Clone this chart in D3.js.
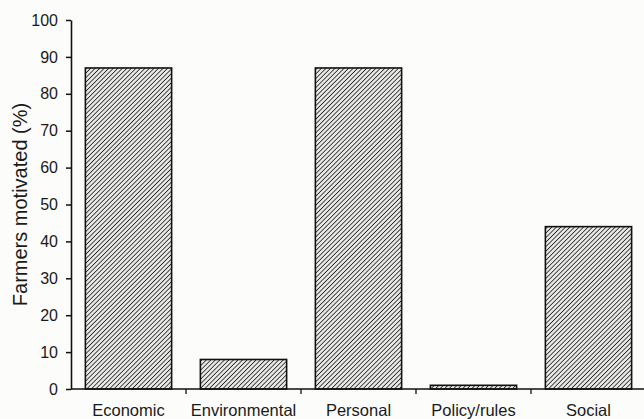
<!DOCTYPE html>
<html>
<head>
<meta charset="utf-8">
<script src="https://cdn.jsdelivr.net/npm/d3@7"></script>
<style>
  html, body { margin: 0; padding: 0; background: #fcfcfb; }
  svg { display: block; }
  text { font-family: "Liberation Sans", Arial, sans-serif; fill: #1a1a1a; }
</style>
</head>
<body>
<svg id="chart" width="644" height="419"></svg>
<script>
// Share of farmers motivated by each driver
const categories = ["Economic", "Environmental", "Personal", "Policy/rules", "Social"];
const values = [87, 8, 87, 1, 44];
const yTicks = [0, 10, 20, 30, 40, 50, 60, 70, 80, 90, 100];
const yLabel = "Farmers motivated (%)";

const svg = d3.select("#chart");
const margin = { left: 71, right: -2, top: 20, bottom: 30 };
const W = 644, H = 419;

const x = d3.scaleBand()
  .domain(categories)
  .range([margin.left, W - margin.right])
  .paddingInner(0.25)
  .paddingOuter(0.125);

const y = d3.scaleLinear()
  .domain([0, 100])
  .range([H - margin.bottom, margin.top]);

// Diagonal hatch fill
const defs = svg.append("defs");
const pat = defs.append("pattern")
  .attr("id", "hatch")
  .attr("patternUnits", "userSpaceOnUse")
  .attr("width", 3.2).attr("height", 3.2)
  .attr("patternTransform", "rotate(45)");
pat.append("rect").attr("width", 3.2).attr("height", 3.2).attr("fill", "#e8e8e6");
pat.append("line")
  .attr("x1", 0).attr("y1", 0).attr("x2", 0).attr("y2", 3.2)
  .attr("stroke", "#222").attr("stroke-width", 1.6);

// Bars
svg.append("g")
  .selectAll("rect")
  .data(categories)
  .join("rect")
  .attr("x", d => x(d))
  .attr("width", x.bandwidth())
  .attr("y", (d, i) => y(values[i]))
  .attr("height", (d, i) => y(0) - y(values[i]))
  .attr("fill", "url(#hatch)")
  .attr("stroke", "#111")
  .attr("stroke-width", 1.6);

// Y axis
const yAxis = svg.append("g")
  .attr("transform", `translate(${margin.left},0)`)
  .call(d3.axisLeft(y).tickValues(yTicks).tickSize(5).tickPadding(8).tickSizeOuter(0));
yAxis.select(".domain").attr("stroke", "#111").attr("stroke-width", 1.6);
yAxis.selectAll(".tick line").attr("stroke", "#111").attr("stroke-width", 1.5);
yAxis.selectAll("text").attr("font-size", 16).style("fill", "#1a1a1a");

// X axis: baseline with ticks on the category boundaries
const baseY = y(0);
const xAxis = svg.append("g");
xAxis.append("line")
  .attr("x1", margin.left).attr("x2", W)
  .attr("y1", baseY).attr("y2", baseY)
  .attr("stroke", "#111").attr("stroke-width", 1.6);
const step = x.step();
const bounds = d3.range(1, categories.length).map(i => x(categories[i]) - step * x.paddingInner() / 2);
xAxis.selectAll("line.tk")
  .data(bounds)
  .join("line")
  .attr("class", "tk")
  .attr("x1", d => d).attr("x2", d => d)
  .attr("y1", baseY).attr("y2", baseY + 5)
  .attr("stroke", "#111").attr("stroke-width", 1.3);
xAxis.selectAll("text")
  .data(categories)
  .join("text")
  .attr("x", d => x(d) + x.bandwidth() / 2)
  .attr("y", baseY + 27)
  .attr("text-anchor", "middle")
  .attr("font-size", 16.5)
  .text(d => d);

// Y axis title
svg.append("text")
  .attr("transform", `translate(27,${(y(0) + y(100)) / 2}) rotate(-90)`)
  .attr("text-anchor", "middle")
  .attr("font-size", 20)
  .text(yLabel);
</script>
</body>
</html>
